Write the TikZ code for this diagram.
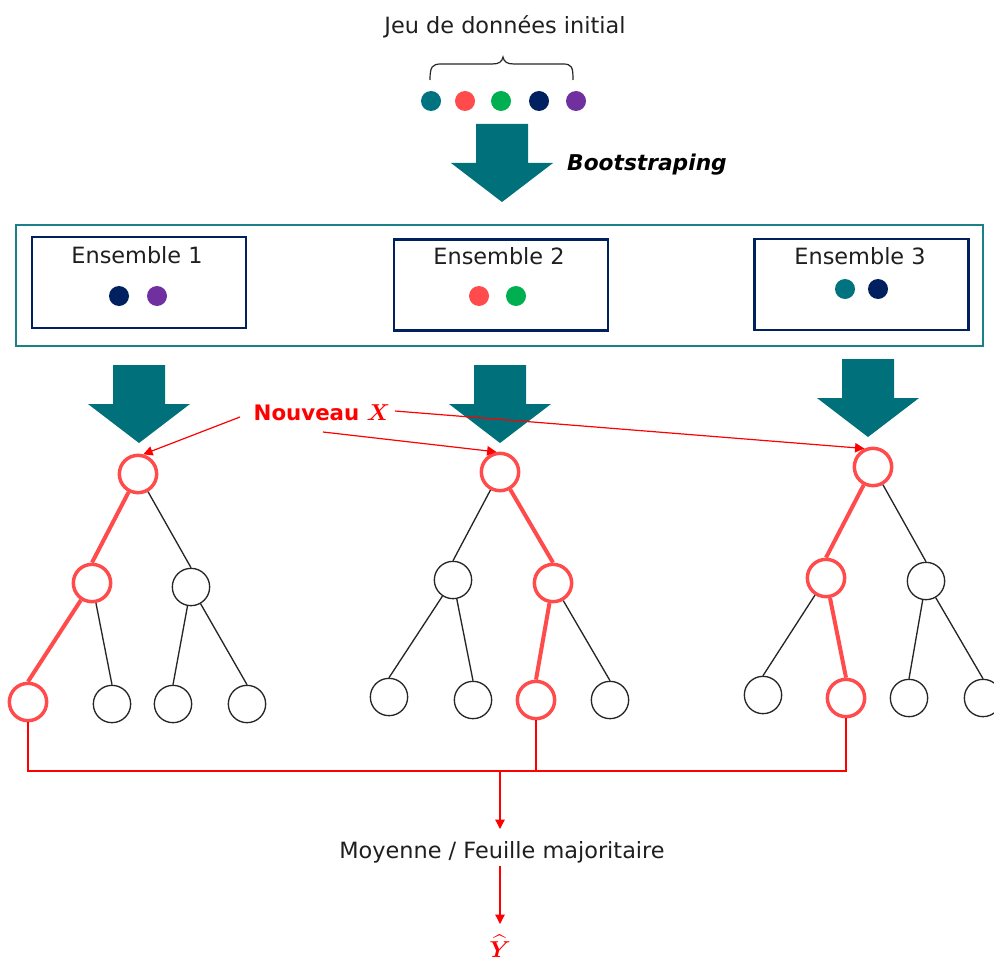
\documentclass[tikz,border=0pt]{standalone}
\usepackage{fontspec}
\setmainfont{DejaVu Sans}
\usepackage{amsmath,bm}
\usetikzlibrary{arrows.meta}

\definecolor{petrol}{RGB}{0,112,122}
\definecolor{petrolbox}{RGB}{28,128,136}
\definecolor{navy}{RGB}{0,32,96}
\definecolor{purp}{RGB}{112,48,160}
\definecolor{grn}{RGB}{0,176,80}
\definecolor{coral}{RGB}{255,75,75}
\definecolor{dotteal}{RGB}{0,115,128}
\definecolor{signalred}{RGB}{255,0,0}

\newcommand{\bigX}{{\fontsize{19}{20}\selectfont\boldmath$X$}}

\tikzset{
  dot/.style={circle, fill=#1, minimum size=15pt, inner sep=0pt},
  setbox/.style={draw=navy, line width=1.8pt, minimum width=160.5pt, minimum height=68.25pt, inner sep=0pt},
  outerbox/.style={draw=petrolbox, line width=2pt, minimum width=725.25pt, minimum height=90.75pt, inner sep=0pt},
  tnode/.style={circle, draw=black!85, line width=1pt, minimum size=28pt, inner sep=0pt},
  hot/.style={tnode, draw=coral, line width=2.6pt},
  edge/.style={draw=black!85, line width=1pt},
  hotedge/.style={draw=coral, line width=3pt},
  redarrow/.style={signalred, line width=0.9pt, -{Triangle[length=7pt,width=7pt]}},
  bus/.style={signalred, line width=1pt},
  lbl/.style={font=\fontsize{16.8}{19}\selectfont, text=black!88, inner sep=1pt},
  bigarrow/.pic={
    \fill[petrol] (-26,-78) -- (26,-78) -- (26,-39) -- (51,-39) -- (0,0)
                  -- (-51,-39) -- (-26,-39) -- cycle;
  }
}

\begin{document}
\begin{tikzpicture}[x=0.75pt, y=-0.75pt]
\useasboundingbox (0,0) rectangle (994,959);

% initial data set
\node[lbl] (title) at (505,27) {Jeu de données initial};
\draw[black!85, line width=0.9pt]
  (430,80) .. controls (430,67) and (432,64) .. (441,64) -- (492,64)
  .. controls (499,64) and (502,62) .. (503,57)
  .. controls (504,62) and (507,64) .. (514,64) -- (563,64)
  .. controls (572,64) and (573,67) .. (573,80);
\node[dot=dotteal] (d1) at (431,101) {};
\node[dot=coral]   (d2) at (465,101) {};
\node[dot=grn]     (d3) at (501,101) {};
\node[dot=navy]    (d4) at (539,101) {};
\node[dot=purp]    (d5) at (576,101) {};

% bootstrap arrow
\pic at (502,202) {bigarrow};
\node[font=\fontsize{16.3}{18}\selectfont\bfseries\itshape, inner sep=0pt] (boot) at (647,165) {Bootstraping};

% bootstrap samples
\node[outerbox] (all) at (499.5,285.5) {};
\node[setbox] (s1) at (139,282.5) {};
\node[setbox] (s2) at (501,285) {};
\node[setbox] (s3) at (861.5,284.5) {};
\node[lbl] (s1t) at (137,255) {Ensemble 1};
\node[lbl] (s2t) at (499,256) {Ensemble 2};
\node[lbl] (s3t) at (860,256) {Ensemble 3};
\node[dot=navy]    (e1a) at (119,296) {};
\node[dot=purp]    (e1b) at (157,296) {};
\node[dot=coral]   (e2a) at (479,296) {};
\node[dot=grn]     (e2b) at (516,296) {};
\node[dot=dotteal] (e3a) at (845,289) {};
\node[dot=navy]    (e3b) at (878,289) {};

% arrows towards the trees
\pic at (139,443) {bigarrow};
\pic at (500,443) {bigarrow};
\pic at (868,437) {bigarrow};

% tree 1
\node[hot]   (a0) at (138,474) {};
\node[hot]   (a1) at (92,583) {};
\node[tnode] (a2) at (191,587) {};
\node[hot]   (a3) at (28,702) {};
\node[tnode] (a4) at (112,704) {};
\node[tnode] (a5) at (173,704) {};
\node[tnode] (a6) at (247,704) {};
\draw[edge] (a0) -- (a2.north);
\draw[edge] (a1) -- (a4.north);
\draw[edge] (a2) -- (a5.north);
\draw[edge] (a2) -- (a6.north);
\draw[hotedge] (a0) -- (a1.north);
\draw[hotedge] (a1) -- (a3.north);

% tree 2
\node[hot]   (b0) at (500,472) {};
\node[tnode] (b1) at (453,580) {};
\node[hot]   (b2) at (553,583) {};
\node[tnode] (b3) at (389,697) {};
\node[tnode] (b4) at (473,700) {};
\node[hot]   (b5) at (536,700) {};
\node[tnode] (b6) at (610,700) {};
\draw[edge] (b0) -- (b1.north);
\draw[edge] (b1) -- (b3.north);
\draw[edge] (b1) -- (b4.north);
\draw[edge] (b2) -- (b6.north);
\draw[hotedge] (b0) -- (b2.north);
\draw[hotedge] (b2) -- (b5.north);

% tree 3
\node[hot]   (c0) at (873,467) {};
\node[hot]   (c1) at (826,578) {};
\node[tnode] (c2) at (926,581) {};
\node[tnode] (c3) at (763,695) {};
\node[hot]   (c4) at (846,698) {};
\node[tnode] (c5) at (909,698) {};
\node[tnode] (c6) at (983,698) {};
\draw[edge] (c0) -- (c2.north);
\draw[edge] (c1) -- (c3.north);
\draw[edge] (c2) -- (c5.north);
\draw[edge] (c2) -- (c6.north);
\draw[hotedge] (c0) -- (c1.north);
\draw[hotedge] (c1) -- (c4.north);

% new observation
\node[font=\fontsize{16}{18}\selectfont\bfseries, text=signalred, inner sep=0pt] (nx) at (322,413) {Nouveau \bigX};
\coordinate (n1) at (240,417);
\coordinate (n2) at (323,432);
\coordinate (n3) at (395,411);
\draw[redarrow] (n1) -- (a0.75);
\draw[redarrow] (n2) -- (b0.100);
\draw[redarrow] (n3) -- (c0.115);

% aggregation
\coordinate (join) at (500,771);
\draw[bus] (a3.south) -- (a3.south |- join) -- (c4.south |- join) -- (c4.south);
\draw[bus] (b5.south) -- (b5.south |- join);
\node[lbl] (agg) at (502,852) {Moyenne / Feuille majoritaire};
\node[text=signalred, inner sep=0pt, font=\fontsize{17}{18}\selectfont\boldmath] (yhat) at (500,946) {$\widehat{Y}$};
\coordinate (aggtop) at (500,829);
\coordinate (aggbot) at (500,866);
\coordinate (ytop) at (500,924);
\draw[redarrow] (join) -- (aggtop);
\draw[redarrow] (aggbot) -- (ytop);
\end{tikzpicture}
\end{document}
